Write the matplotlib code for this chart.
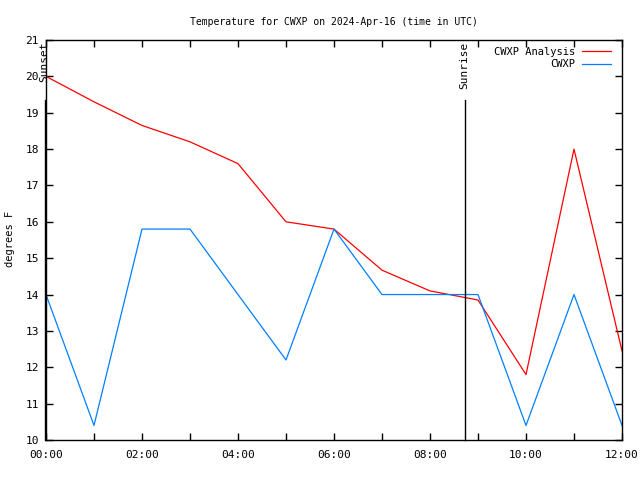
import matplotlib
matplotlib.use("Agg")
import matplotlib.pyplot as plt
from matplotlib.ticker import MultipleLocator, FuncFormatter

# hours after 00:00 UTC
hours = [0, 1, 2, 3, 4, 5, 6, 7, 8, 9, 10, 11, 12]
analysis = [20.0, 19.3, 18.65, 18.2, 17.6, 16.0, 15.8, 14.67, 14.1, 13.85, 11.8, 18.0, 12.45]
obs = [14.0, 10.4, 15.8, 15.8, 14.0, 12.2, 15.8, 14.0, 14.0, 14.0, 10.4, 14.0, 10.4]
sunset = -0.03
sunrise = 8.72

plt.rcParams['font.family'] = ['DejaVu Sans Mono']
plt.rcParams['font.size'] = 7.5

fig = plt.figure(figsize=(6.4, 4.8), dpi=100)
ax = fig.add_axes([46 / 640, 1 - 440 / 480, 576 / 640, 400 / 480])

ax.plot(hours, analysis, color='#ff0000', lw=0.9, label='CWXP Analysis')
ax.plot(hours, obs, color='#0080ff', lw=0.9, label='CWXP')

ax.set_xlim(0, 12)
ax.set_ylim(10, 21)

for x, name in [(sunset, 'Sunset'), (sunrise, 'Sunrise')]:
    ax.plot([x, x], [10, 19.35], color='black', lw=1, clip_on=False)
    ax.text(x, 20.95, name, rotation=90, ha='center', va='top', fontsize=8)

ax.xaxis.set_major_locator(MultipleLocator(1))
ax.xaxis.set_major_formatter(FuncFormatter(
    lambda v, p: '%02d:00' % v if int(round(v)) % 2 == 0 else ''))
ax.yaxis.set_major_locator(MultipleLocator(1))
ax.tick_params(direction='in', top=True, right=True, length=5, width=1,
               labelsize=8)
ax.tick_params(axis='y', pad=5)
ax.tick_params(axis='x', pad=7)
for s in ax.spines.values():
    s.set_linewidth(1)

fig.text(10 / 640, 1 - 239 / 480, 'degrees F', rotation=90, ha='center', va='center')
ax.set_title('Temperature for CWXP on 2024-Apr-16 (time in UTC)', fontsize=7, pad=11)

ax.legend(loc='upper right', frameon=False, markerfirst=False, handlelength=2.7,
          borderaxespad=0.25, labelspacing=0.25, handletextpad=0.65,
          bbox_to_anchor=(0.992, 1.0), fontsize=7.5)

fig.savefig('out.png', dpi=100)
